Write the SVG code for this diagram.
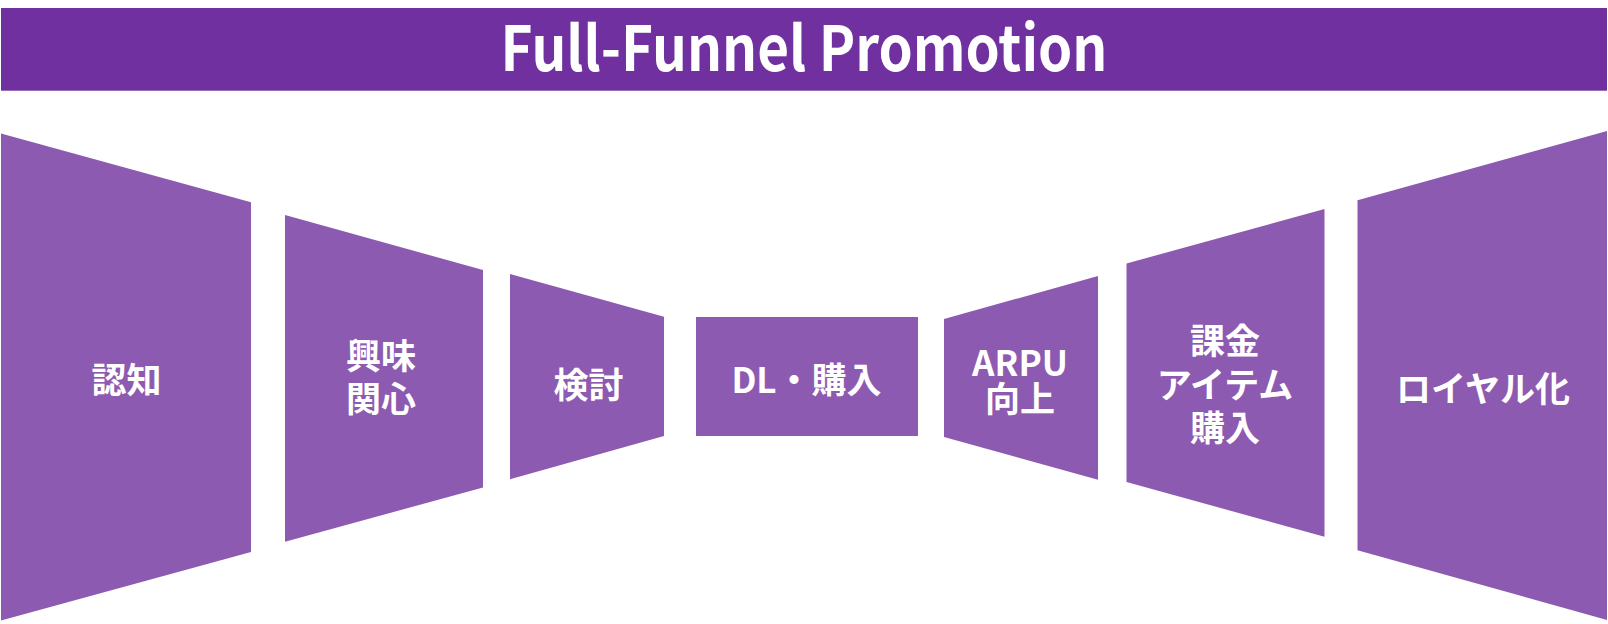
<svg xmlns="http://www.w3.org/2000/svg" width="1608" height="624" viewBox="0 0 1608 624">
  <style>
    .stage { fill: #8D5AB1; }
    .lbl { font-family: "Noto Sans CJK JP", "Noto Sans", sans-serif; font-weight: bold; font-size: 35px; fill: #FFFFFF; text-anchor: middle; }
    .title { font-family: "Noto Sans CJK JP", "Noto Sans", sans-serif; font-weight: bold; font-size: 62px; fill: #FFFFFF; text-anchor: middle; }
  </style>
  <rect width="1608" height="624" fill="#FFFFFF"/>
  <g id="header">
    <rect x="1" y="8" width="1606" height="82.7" fill="#7030A0"/>
    <text class="title" x="804" y="70.5" textLength="607" lengthAdjust="spacingAndGlyphs">Full-Funnel Promotion</text>
  </g>
  <g id="stage-awareness">
    <polygon class="stage" points="1,133.5 251,202.3 251,552 1,620.5"/>
    <text class="lbl" x="126.5" y="392.5">認知</text>
  </g>
  <g id="stage-interest">
    <polygon class="stage" points="285,215 483,270 483,487.5 285,541.7"/>
    <text class="lbl"><tspan x="381" y="369">興味</tspan><tspan x="381" y="412">関心</tspan></text>
  </g>
  <g id="stage-consideration">
    <polygon class="stage" points="510,274 664,316.7 664,436 510,479.3"/>
    <text class="lbl" x="588.5" y="397.5">検討</text>
  </g>
  <g id="stage-download">
    <rect class="stage" x="696" y="317" width="222" height="119"/>
    <text class="lbl" x="806.5" y="393">DL・購入</text>
  </g>
  <g id="stage-arpu">
    <polygon class="stage" points="944,319 1098,276 1098,479.7 944,437"/>
    <text class="lbl"><tspan x="1020" y="376">ARPU</tspan><tspan x="1020" y="412">向上</tspan></text>
  </g>
  <g id="stage-item-purchase">
    <polygon class="stage" points="1126.5,263.5 1324.5,209 1324.5,536.7 1126.5,482"/>
    <text class="lbl"><tspan x="1225" y="354">課金</tspan><tspan x="1225" y="397.5">アイテム</tspan><tspan x="1225" y="441">購入</tspan></text>
  </g>
  <g id="stage-loyalty">
    <polygon class="stage" points="1357.5,200.3 1607,131 1607,620 1357.5,550.3"/>
    <text class="lbl" x="1483" y="402">ロイヤル化</text>
  </g>
</svg>
